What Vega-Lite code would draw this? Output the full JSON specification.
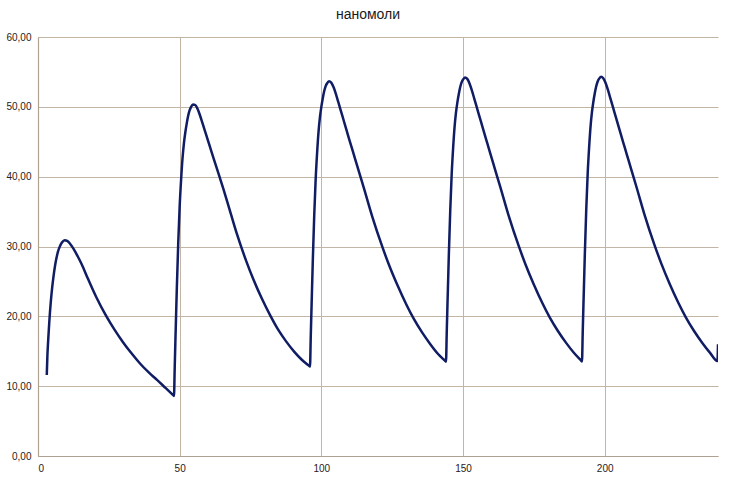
{
  "$schema": "https://vega.github.io/schema/vega-lite/v6.json",
  "width": 680,
  "height": 419,
  "autosize": {"type": "none"},
  "padding": {"left": 38, "top": 37, "right": 24, "bottom": 29},
  "background": "white",
  "title": {
    "text": "наномоли",
    "anchor": "middle",
    "frame": "group",
    "dx": -10,
    "offset": 10,
    "fontSize": 14,
    "fontWeight": "normal",
    "font": "Liberation Sans",
    "color": "#1a1a1a"
  },
  "config": {
    "locale": {"number": {"decimal": ",", "thousands": " ", "grouping": [3], "currency": ["", " €"]}},
    "view": {"stroke": null},
    "axis": {
      "gridColor": "#c2b5a5",
      "gridWidth": 1,
      "domainColor": "#b0a292",
      "domainWidth": 1.2,
      "ticks": false,
      "labelFont": "Liberation Sans",
      "labelFontSize": 10,
      "labelColor": "#2a2018",
      "title": null
    }
  },
  "data": {
    "values": [
      {"t": 3.1, "v": 11.6}, {"t": 3.3, "v": 14.2}, {"t": 3.6, "v": 16.6}, {"t": 4.0, "v": 19.3},
      {"t": 4.5, "v": 22.0}, {"t": 5.0, "v": 24.1}, {"t": 5.5, "v": 25.8}, {"t": 6.0, "v": 27.2},
      {"t": 6.5, "v": 28.3}, {"t": 7.0, "v": 29.2}, {"t": 7.7, "v": 30.0}, {"t": 8.5, "v": 30.6},
      {"t": 9.4, "v": 30.9}, {"t": 10.3, "v": 30.8}, {"t": 11.3, "v": 30.4}, {"t": 12.5, "v": 29.7},
      {"t": 14, "v": 28.6}, {"t": 15.5, "v": 27.4}, {"t": 17.6, "v": 25.4}, {"t": 20.5, "v": 22.8},
      {"t": 24, "v": 20.1}, {"t": 27, "v": 18.1}, {"t": 30, "v": 16.3}, {"t": 33, "v": 14.7},
      {"t": 36, "v": 13.25}, {"t": 39, "v": 12.0}, {"t": 42, "v": 10.9}, {"t": 45, "v": 9.75},
      {"t": 47.6, "v": 8.75}, {"t": 48, "v": 8.6},
      {"t": 48.25, "v": 12.64}, {"t": 48.5, "v": 16.59}, {"t": 48.75, "v": 20.33}, {"t": 49, "v": 24.07},
      {"t": 49.5, "v": 30.56}, {"t": 50, "v": 35.74}, {"t": 50.5, "v": 39.52}, {"t": 51, "v": 42.6},
      {"t": 51.5, "v": 44.78}, {"t": 52, "v": 46.36}, {"t": 52.5, "v": 47.63}, {"t": 53, "v": 48.71},
      {"t": 53.5, "v": 49.48}, {"t": 54, "v": 49.95}, {"t": 54.7, "v": 50.35}, {"t": 55.5, "v": 50.26},
      {"t": 56.3, "v": 49.72}, {"t": 57.1, "v": 48.87}, {"t": 58, "v": 47.73}, {"t": 59, "v": 46.45},
      {"t": 60, "v": 45.17}, {"t": 61, "v": 43.88}, {"t": 62, "v": 42.59}, {"t": 63, "v": 41.34},
      {"t": 64.2, "v": 39.82}, {"t": 65.4, "v": 38.28}, {"t": 67.1, "v": 36.0}, {"t": 70, "v": 32.05},
      {"t": 73.6, "v": 27.8}, {"t": 76, "v": 25.3}, {"t": 79, "v": 22.55}, {"t": 82, "v": 20.1},
      {"t": 84.6, "v": 18.2}, {"t": 87.5, "v": 16.45}, {"t": 90.4, "v": 14.95}, {"t": 93.2, "v": 13.75},
      {"t": 95.6, "v": 12.94}, {"t": 96, "v": 12.8},
      {"t": 96.25, "v": 16.81}, {"t": 96.5, "v": 20.71}, {"t": 96.75, "v": 24.42}, {"t": 97, "v": 28.12},
      {"t": 97.5, "v": 34.54}, {"t": 98, "v": 39.65}, {"t": 98.5, "v": 43.36}, {"t": 99, "v": 46.37},
      {"t": 99.5, "v": 48.48}, {"t": 100, "v": 49.99}, {"t": 100.5, "v": 51.2}, {"t": 101, "v": 52.22},
      {"t": 101.5, "v": 52.93}, {"t": 102, "v": 53.34}, {"t": 102.7, "v": 53.65}, {"t": 103.5, "v": 53.47},
      {"t": 104.3, "v": 52.83}, {"t": 105.1, "v": 51.9}, {"t": 106, "v": 50.66}, {"t": 107, "v": 49.28},
      {"t": 108, "v": 47.9}, {"t": 109, "v": 46.51}, {"t": 110, "v": 45.13}, {"t": 111, "v": 43.79},
      {"t": 112.2, "v": 42.16}, {"t": 113.4, "v": 40.53}, {"t": 115.1, "v": 38.25}, {"t": 118, "v": 34.25},
      {"t": 121.6, "v": 29.87}, {"t": 124, "v": 27.24}, {"t": 127, "v": 24.33}, {"t": 130, "v": 21.69},
      {"t": 132.6, "v": 19.66}, {"t": 135.5, "v": 17.73}, {"t": 138.4, "v": 16.05}, {"t": 141.2, "v": 14.61},
      {"t": 143.6, "v": 13.66}, {"t": 144, "v": 13.5},
      {"t": 144.25, "v": 17.5}, {"t": 144.5, "v": 21.4}, {"t": 144.75, "v": 25.1}, {"t": 145, "v": 28.8},
      {"t": 145.5, "v": 35.2}, {"t": 146, "v": 40.3}, {"t": 146.5, "v": 44.0}, {"t": 147, "v": 47.0},
      {"t": 147.5, "v": 49.1}, {"t": 148, "v": 50.6}, {"t": 148.5, "v": 51.8}, {"t": 149, "v": 52.8},
      {"t": 149.5, "v": 53.5}, {"t": 150, "v": 53.9}, {"t": 150.7, "v": 54.2}, {"t": 151.5, "v": 54.0},
      {"t": 152.3, "v": 53.35}, {"t": 153.1, "v": 52.4}, {"t": 154, "v": 51.15}, {"t": 155, "v": 49.75},
      {"t": 156, "v": 48.35}, {"t": 157, "v": 46.95}, {"t": 158, "v": 45.55}, {"t": 159, "v": 44.2},
      {"t": 160.2, "v": 42.55}, {"t": 161.4, "v": 40.9}, {"t": 163.1, "v": 38.6}, {"t": 166, "v": 34.57},
      {"t": 169.6, "v": 30.15}, {"t": 172, "v": 27.5}, {"t": 175, "v": 24.56}, {"t": 178, "v": 21.9},
      {"t": 180.6, "v": 19.85}, {"t": 183.5, "v": 17.9}, {"t": 186.4, "v": 16.2}, {"t": 189.2, "v": 14.75},
      {"t": 191.6, "v": 13.72}, {"t": 192, "v": 13.55},
      {"t": 192.25, "v": 17.6}, {"t": 192.5, "v": 21.5}, {"t": 192.75, "v": 25.2}, {"t": 193, "v": 28.9},
      {"t": 193.5, "v": 35.3}, {"t": 194, "v": 40.4}, {"t": 194.5, "v": 44.1}, {"t": 195, "v": 47.1},
      {"t": 195.5, "v": 49.2}, {"t": 196, "v": 50.7}, {"t": 196.5, "v": 51.9}, {"t": 197, "v": 52.9},
      {"t": 197.5, "v": 53.6}, {"t": 198, "v": 54.0}, {"t": 198.7, "v": 54.3}, {"t": 199.5, "v": 54.1},
      {"t": 200.3, "v": 53.45}, {"t": 201.1, "v": 52.5}, {"t": 202, "v": 51.25}, {"t": 203, "v": 49.85},
      {"t": 204, "v": 48.45}, {"t": 205, "v": 47.05}, {"t": 206, "v": 45.65}, {"t": 207, "v": 44.3},
      {"t": 208.2, "v": 42.65}, {"t": 209.4, "v": 41.0}, {"t": 211.1, "v": 38.7}, {"t": 214, "v": 34.65},
      {"t": 217.6, "v": 30.2}, {"t": 220, "v": 27.55}, {"t": 223, "v": 24.6}, {"t": 226, "v": 21.95},
      {"t": 228.6, "v": 19.9}, {"t": 231.5, "v": 17.93}, {"t": 234.4, "v": 16.22}, {"t": 237.2, "v": 14.77},
      {"t": 239.8, "v": 13.6}, {"t": 240, "v": 16.0}
    ]
  },
  "mark": {"type": "line", "interpolate": "monotone", "color": "#101c64", "strokeWidth": 2.5, "clip": true},
  "encoding": {
    "x": {
      "field": "t",
      "type": "quantitative",
      "scale": {"domain": [0, 240], "nice": false, "zero": true},
      "axis": {"values": [0, 50, 100, 150, 200], "grid": true, "labelPadding": 7, "format": "d"}
    },
    "y": {
      "field": "v",
      "type": "quantitative",
      "scale": {"domain": [0, 60], "nice": false},
      "axis": {"values": [0, 10, 20, 30, 40, 50, 60], "grid": true, "labelPadding": 7, "format": ".2f"}
    }
  }
}
